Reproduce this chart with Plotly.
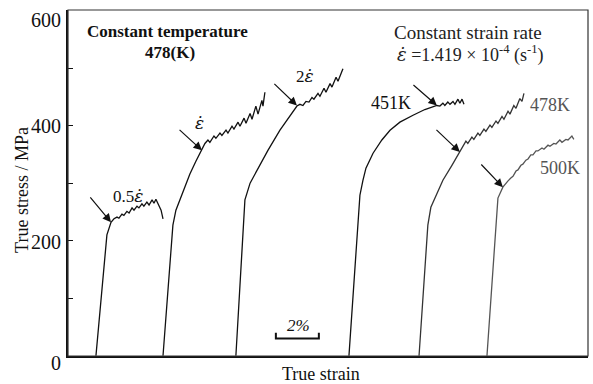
import plotly.graph_objects as go

# ---- data (strain in %, offset per curve; stress in MPa) ----
x_05 = [1.30, 1.72, 1.81, 2.00, 2.14, 2.28, 2.37, 2.51, 2.60, 2.74, 2.84, 2.98, 3.07, 3.21, 3.30,
        3.44, 3.53, 3.67, 3.77, 3.91, 4.00, 4.09, 4.19, 4.33, 4.42]
y_05 = [0, 170, 210, 232, 238, 241, 239, 246, 244, 251, 248, 257, 253, 260, 257,
        264, 260, 267, 262, 271, 265, 272, 264, 253, 238]

x_1 = [4.42, 4.74, 4.88, 5.02, 5.21, 5.44, 5.67, 5.95, 6.23, 6.37, 6.51, 6.60, 6.79, 6.88, 7.07,
       7.16, 7.35, 7.44, 7.63, 7.72, 7.91, 8.00, 8.19, 8.28, 8.47, 8.56, 8.74, 8.84, 9.02, 9.07, 9.16]
y_1 = [0, 149, 227, 253, 271, 293, 316, 338, 357, 369, 375, 371, 382, 378, 387,
       383, 392, 387, 399, 394, 406, 399, 413, 404, 421, 411, 434, 420, 444, 434, 458]

x_2 = [7.81, 8.05, 8.14, 8.23, 8.47, 8.84, 9.30, 9.86, 10.33, 10.65, 10.79, 10.93, 11.07, 11.21,
       11.35, 11.44, 11.63, 11.72, 11.91, 12.00, 12.19, 12.28, 12.47, 12.56, 12.79]
y_2 = [0, 163, 227, 271, 300, 326, 357, 392, 418, 434, 437, 435, 442, 441,
       449, 446, 456, 451, 465, 458, 473, 467, 484, 477, 499]

x_451 = [13.07, 13.58, 13.72, 13.86, 14.19, 14.60, 14.98, 15.44, 16.05, 16.60, 17.16, 17.30, 17.44,
         17.53, 17.67, 17.77, 17.91, 18.00, 18.14, 18.23, 18.33, 18.42]
y_451 = [0, 279, 305, 326, 352, 375, 392, 406, 418, 428, 435, 434, 439,
         435, 441, 437, 442, 437, 446, 439, 446, 437]

x_478 = [16.33, 16.74, 16.88, 17.12, 17.44, 17.86, 18.23, 18.37, 18.51, 18.60, 18.79, 18.88, 19.07,
         19.16, 19.35, 19.44, 19.63, 19.72, 19.91, 20.00, 20.19, 20.28, 20.47, 20.56, 20.74, 20.84,
         21.02, 21.12, 21.21]
y_478 = [0, 227, 258, 279, 305, 331, 354, 362, 373, 369, 380, 376, 387,
         383, 394, 390, 401, 397, 408, 404, 416, 411, 425, 420, 435, 430,
         447, 442, 456]

x_500 = [19.49, 19.67, 19.86, 20.00, 20.23, 20.37, 20.47, 20.60, 20.70, 20.84, 20.93, 21.07, 21.16,
         21.30, 21.40, 21.53, 21.63, 21.77, 21.86, 22.05, 22.14, 22.33, 22.42, 22.60, 22.70, 22.88,
         22.98, 23.16, 23.26, 23.44, 23.53]
y_500 = [0, 97, 201, 274, 293, 300, 304, 309, 312, 321, 323, 331, 333,
         340, 342, 349, 349, 356, 356, 361, 359, 366, 364, 369, 368, 375,
         371, 376, 375, 382, 376]

# arrows: (tail x, tail y, head x, head y)
arrows = [
    (0.98, 278, 2.00, 232),
    (5.12, 395, 6.23, 357),
    (9.53, 475, 10.65, 435),
    (16.00, 473, 17.16, 435),
    (17.07, 395, 18.23, 354),
    (19.16, 335, 20.23, 293),
]

# scale bar (2 % of strain)
scale_x = [9.67, 11.67]
scale_y = [30, 40]

ytick_vals = [0, 200, 400, 600]
ytick_text = ["0", "200", "400", "600"]
ytick_shift = [-7, -1, 0, -9]   # label offsets (px) as printed in the scan

SERIF = "Liberation Serif, Times New Roman, serif"
EDOT = "<span style=\"font-family:DejaVu Serif\"><i>\u03b5\u0307</i></span>"

fig = go.Figure()
curves = [(x_05, y_05, "#111111"), (x_1, y_1, "#111111"), (x_2, y_2, "#111111"),
          (x_451, y_451, "#111111"), (x_478, y_478, "#333333"), (x_500, y_500, "#555555")]
for xs, ys, c in curves:
    fig.add_trace(go.Scatter(x=xs, y=ys, mode="lines", line=dict(color=c, width=1.3),
                             hoverinfo="skip", showlegend=False))

# scale bar
fig.add_trace(go.Scatter(x=[scale_x[0], scale_x[0], scale_x[1], scale_x[1]],
                         y=[scale_y[1], scale_y[0], scale_y[0], scale_y[1]],
                         mode="lines", line=dict(color="#111111", width=2),
                         hoverinfo="skip", showlegend=False))

for tx, ty, hx, hy in arrows:
    fig.add_annotation(x=hx, y=hy, ax=tx, ay=ty, xref="x", yref="y", axref="x", ayref="y",
                       text="", showarrow=True, arrowhead=2, arrowsize=1.4, arrowwidth=1.2,
                       arrowcolor="#111111")

texts = [
    ("<b>Constant temperature</b>", 4.65, 564, 17, "#111111"),
    ("<b>478(K)</b>", 4.74, 527, 17, "#111111"),
    ("Constant strain rate", 18.6, 562, 19, "#222222"),
    (EDOT + " =1.419 \u00d7 10<sup>-4</sup> (s<sup>-1</sup>)", 18.7, 525, 18, "#222222"),
    ("0.5" + EDOT, 2.79, 278, 17, "#111111"),
    (EDOT, 6.14, 404, 17, "#111111"),
    ("2" + EDOT, 11.02, 486, 17, "#111111"),
    ("451K", 15.02, 439, 18, "#111111"),
    ("478K", 22.42, 435, 18, "#555555"),
    ("500K", 22.88, 326, 18, "#555555"),
    ("<i>2%</i>", 10.70, 52, 17, "#111111"),
]
for t, x, y, s, c in texts:
    fig.add_annotation(x=x, y=y, xref="x", yref="y", text=t, showarrow=False,
                       font=dict(family=SERIF, size=s, color=c))

# y tick labels
for v, t, sh in zip(ytick_vals, ytick_text, ytick_shift):
    fig.add_annotation(x=-0.0096, y=v, xref="paper", yref="y", text=t, showarrow=False,
                       xanchor="right", yanchor="middle", yshift=sh,
                       font=dict(family=SERIF, size=20, color="#111111"))

fig.add_annotation(x=-0.0885, y=0.48, xref="paper", yref="paper", text="True stress / MPa",
                   textangle=-90, showarrow=False, xanchor="center", yanchor="middle",
                   font=dict(family=SERIF, size=18, color="#111111"))
fig.add_annotation(x=0.4865, y=-0.052, xref="paper", yref="paper", text="True strain",
                   showarrow=False, xanchor="center", yanchor="middle",
                   font=dict(family=SERIF, size=18, color="#111111"))

# frame (top / right edges of the box)
fig.add_shape(type="rect", xref="paper", yref="paper", x0=0, y0=0, x1=1, y1=1,
              line=dict(color="#333333", width=1.2), layer="above")

fig.update_xaxes(range=[0, 24.19], showticklabels=False, ticks="", showgrid=False, zeroline=False,
                 showline=True, linecolor="#111111", linewidth=1.5)
fig.update_yaxes(range=[-0.5, 601], tickvals=ytick_vals, showticklabels=False, ticks="inside",
                 ticklen=5, tickcolor="#111111", showgrid=False, zeroline=False,
                 minor=dict(dtick=100, tick0=0, ticks="inside", ticklen=5, tickcolor="#111111"),
                 showline=True, linecolor="#111111", linewidth=1.5)
fig.update_layout(width=593, height=384, margin=dict(l=68, r=5, t=10, b=28, autoexpand=False),
                  plot_bgcolor="white", paper_bgcolor="white")
fig.write_html("out.html", config={"displayModeBar": False},
               post_script="document.body.style.margin='0';")
